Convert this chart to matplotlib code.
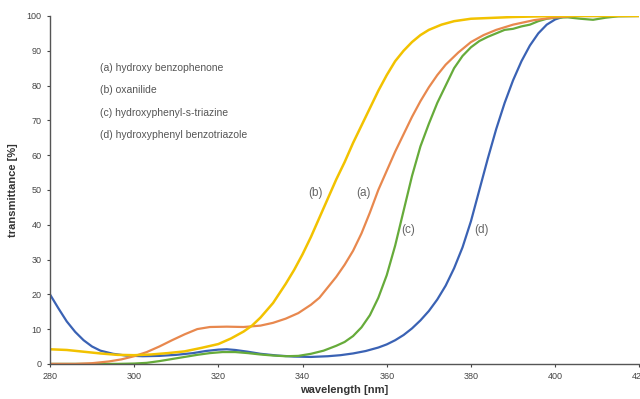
import matplotlib
matplotlib.use("Agg")
import matplotlib.pyplot as plt

plt.rcParams['font.family'] = ['Liberation Sans', 'DejaVu Sans']

# (a) hydroxy benzophenone - orange
wl_a = [280, 286, 290, 294, 297, 300, 303, 306, 309, 312, 315, 318, 322, 326, 330,
        333, 336, 339, 342, 344, 346, 348, 350, 352, 354, 356, 358, 360, 362, 364,
        366, 368, 370, 372, 374, 377, 380, 383, 386, 390, 395, 400, 405, 420]
tr_a = [0, 0, 0.2, 0.7, 1.3, 2.2, 3.4, 5, 6.8, 8.5, 10, 10.6, 10.7, 10.6, 11,
        11.8, 13, 14.6, 17, 19, 22, 25, 28.5, 32.5, 37.5, 43.5, 50, 55.5, 61, 66,
        71, 75.5, 79.5, 83, 86, 89.5, 92.5, 94.5, 96, 97.5, 98.8, 99.6, 100, 100]

# (b) oxanilide - yellow
wl_b = [280, 284, 288, 292, 296, 300, 304, 308, 312, 316, 320, 323, 326, 328, 330,
        333, 336, 338, 340, 342, 344, 346, 348, 350, 352, 354, 356, 358, 360, 362,
        364, 366, 368, 370, 373, 376, 380, 390, 400, 420]
tr_b = [4.2, 4.0, 3.5, 3.0, 2.6, 2.5, 2.7, 3.1, 3.6, 4.6, 5.7, 7.3, 9.3, 11, 13.3,
        17.5, 23, 27, 31.5, 36.5, 42, 47.5, 53, 58, 63.5, 68.5, 73.5, 78.5, 83, 87,
        90, 92.5, 94.5, 96, 97.5, 98.5, 99.2, 99.7, 100, 100]

# (c) hydroxyphenyl-s-triazine - green
wl_c = [280, 296, 300, 303, 306, 309, 312, 315, 318, 321, 324, 327, 330, 333, 336,
        339, 342, 345, 348, 350, 352, 354, 356, 358, 360, 362, 364, 366, 368, 370,
        372, 374, 376, 378, 380, 382, 384, 386, 388, 390, 392, 394, 396, 398, 400,
        403, 406, 409, 412, 415, 420]
tr_c = [0, 0, 0.1, 0.3, 0.8, 1.4, 2, 2.6, 3.1, 3.4, 3.4, 3.1, 2.7, 2.4, 2.2,
        2.3, 2.9, 3.8, 5.2, 6.3, 8, 10.5, 14, 19, 25.5, 34, 44, 54, 62.5, 69,
        75, 80, 85, 88.5, 91, 92.8, 94, 95, 96, 96.3, 97, 97.5, 98.5, 99.2, 99.5,
        99.6, 99.2, 98.9, 99.5, 99.9, 100]

# (d) hydroxyphenyl benzotriazole - blue
wl_d = [280, 282, 284, 286, 288, 290, 292, 295, 298, 302, 306, 310, 314, 317, 320,
        322, 324, 327, 330, 334, 338, 342, 346, 349, 352, 355, 358, 360, 362, 364,
        366, 368, 370, 372, 374, 376, 378, 380, 382, 384, 386, 388, 390, 392, 394,
        396, 398, 400, 402, 405, 420]
tr_d = [20, 16, 12.2, 9.2, 6.8, 5, 3.8, 2.9, 2.4, 2.2, 2.3, 2.6, 3.1, 3.7, 4.1,
        4.2, 4, 3.5, 2.9, 2.4, 2.1, 2, 2.2, 2.5, 3, 3.7, 4.7, 5.6, 6.8, 8.3,
        10.2, 12.5, 15.2, 18.5, 22.5, 27.5, 33.5, 41, 50, 59, 67.5, 75, 81.5, 87, 91.5,
        95, 97.5, 99, 99.8, 100, 100]

legend_lines = ["(a) hydroxy benzophenone", "(b) oxanilide",
                "(c) hydroxyphenyl-s-triazine", "(d) hydroxyphenyl benzotriazole"]
legend_y = [85, 78.6, 72.1, 65.8]

fig = plt.figure(figsize=(6.4, 3.99), dpi=100)
ax = fig.add_axes([0.078, 0.088, 0.921, 0.872])

ax.plot(wl_d, tr_d, color='#3a62b4', lw=1.6)
ax.plot(wl_c, tr_c, color='#66ab3a', lw=1.6)
ax.plot(wl_a, tr_a, color='#e8884e', lw=1.6)
ax.plot(wl_b, tr_b, color='#f2c200', lw=1.8)

ax.set_xlim(280, 420)
ax.set_ylim(0, 100)
ax.set_xticks(range(280, 421, 20))
ax.set_yticks(range(0, 101, 10))
ax.tick_params(labelsize=6.5, colors='#444444', length=2.5, width=0.8)
for s in ['top', 'right']:
    ax.spines[s].set_visible(False)
for s in ['left', 'bottom']:
    ax.spines[s].set_color('#555555')
    ax.spines[s].set_linewidth(1.0)

ax.set_xlabel('wavelength [nm]', fontsize=8, fontweight='bold', color='#333333', labelpad=3)
ax.set_ylabel('transmittance [%]', fontsize=8, fontweight='bold', color='#333333', labelpad=6)

for txt, yy in zip(legend_lines, legend_y):
    ax.text(291.9, yy, txt, fontsize=7.5, color='#555555', va='center')

ax.text(343.1, 49, "(b)", fontsize=8.5, color='#666666', ha='center', va='center')
ax.text(354.5, 49, "(a)", fontsize=8.5, color='#666666', ha='center', va='center')
ax.text(365.2, 38.5, "(c)", fontsize=8.5, color='#666666', ha='center', va='center')
ax.text(382.6, 38.5, "(d)", fontsize=8.5, color='#666666', ha='center', va='center')

fig.savefig("out.png", dpi=100)
